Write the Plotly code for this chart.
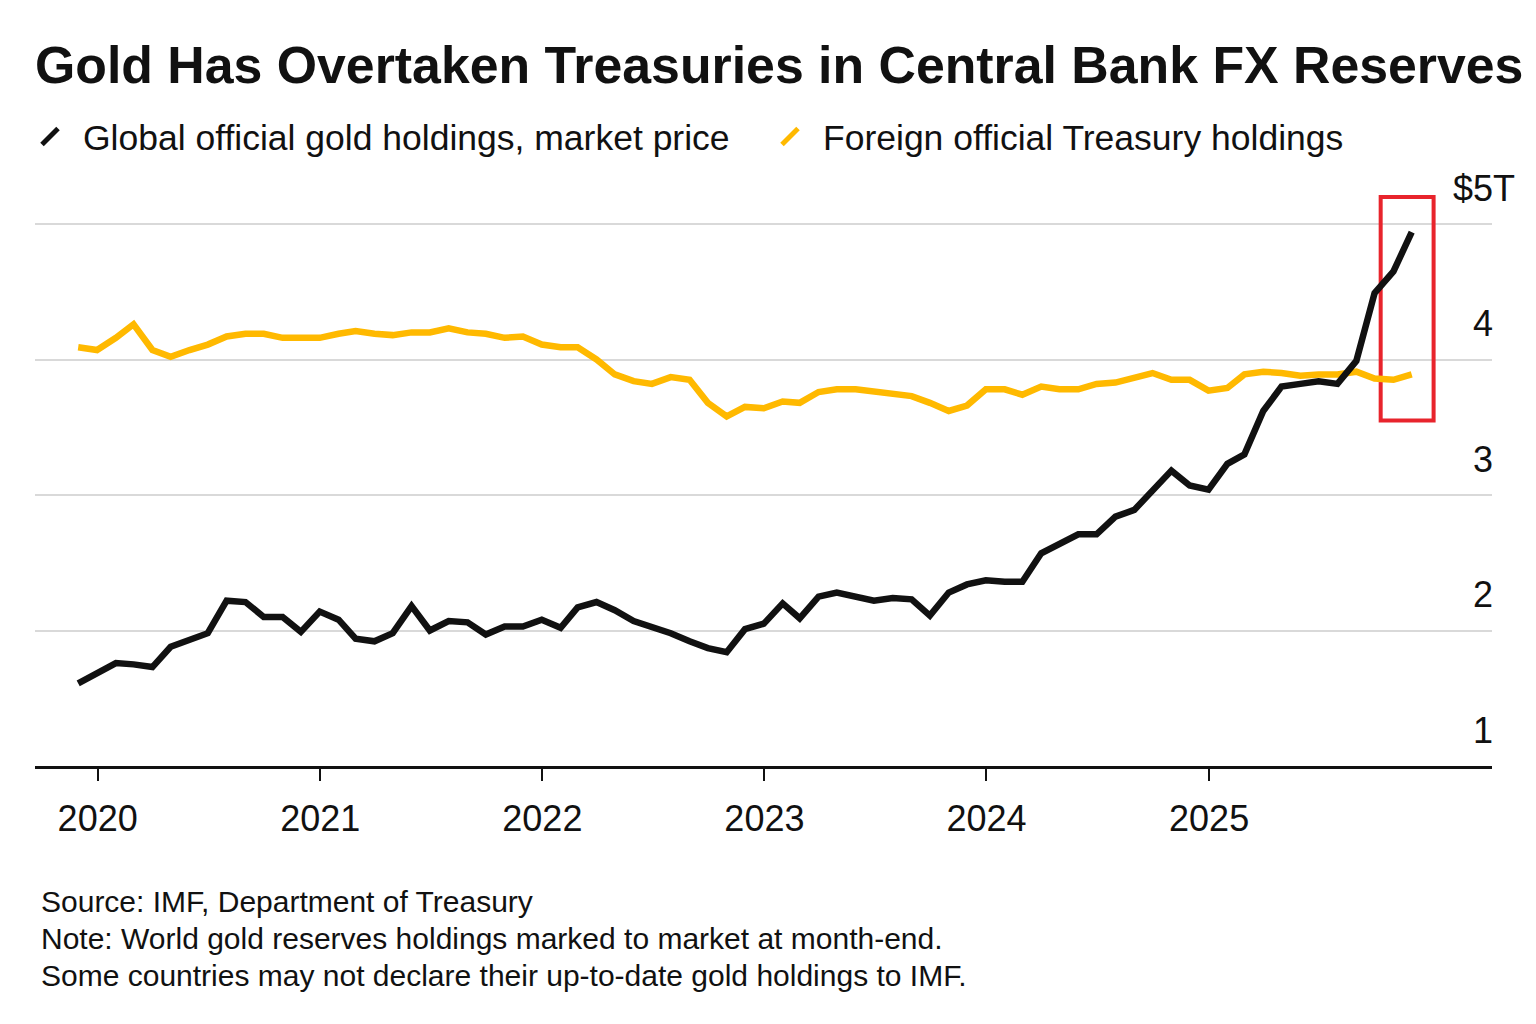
import calendar
import plotly.graph_objects as go

# ---------------- data ----------------
TITLE = "Gold Has Overtaken Treasuries in Central Bank FX Reserves"
SERIES_NAMES = ["Global official gold holdings, market price", "Foreign official Treasury holdings"]
FOOTER_LINES = [
    "Source: IMF, Department of Treasury",
    "Note: World gold reserves holdings marked to market at month-end.",
    "Some countries may not declare their up-to-date gold holdings to IMF.",
]

# month-end observations, Nov 2019 .. Nov 2025
MONTHS = [(2019, 11), (2019, 12)] + [(y, m) for y in range(2020, 2026) for m in range(1, 13)][:71]
DATES = [f"{y}-{m:02d}-{calendar.monthrange(y, m)[1]:02d}" for y, m in MONTHS]

# $ trillions
GOLD = [1.61, 1.68, 1.76, 1.75, 1.73, 1.88, 1.93, 1.98, 2.22, 2.21,
        2.10, 2.10, 1.99, 2.14, 2.08, 1.94, 1.92, 1.98, 2.18, 2.00,
        2.07, 2.06, 1.97, 2.03, 2.03, 2.08, 2.02, 2.17, 2.21, 2.15,
        2.07, 2.03, 1.98, 1.92, 1.87, 1.84, 2.01, 2.05, 2.20, 2.09,
        2.25, 2.28, 2.25, 2.22, 2.24, 2.23, 2.11, 2.28, 2.34, 2.37,
        2.36, 2.36, 2.57, 2.64, 2.71, 2.71, 2.84, 2.89, 3.03, 3.18,
        3.07, 3.04, 3.23, 3.30, 3.62, 3.80, 3.82, 3.84, 3.82, 3.99,
        4.49, 4.65, 4.94]

TREASURY = [4.09, 4.07, 4.16, 4.26, 4.07, 4.02, 4.07, 4.11, 4.17, 4.19,
            4.19, 4.16, 4.16, 4.16, 4.19, 4.21, 4.19, 4.18, 4.20, 4.20,
            4.23, 4.20, 4.19, 4.16, 4.17, 4.11, 4.09, 4.09, 4.00, 3.89,
            3.84, 3.82, 3.87, 3.85, 3.68, 3.58, 3.65, 3.64, 3.69, 3.68,
            3.76, 3.78, 3.78, 3.76, 3.75, 3.73, 3.68, 3.62, 3.66, 3.78,
            3.78, 3.74, 3.80, 3.78, 3.78, 3.82, 3.83, 3.86, 3.90, 3.85,
            3.85, 3.77, 3.79, 3.89, 3.91, 3.90, 3.88, 3.89, 3.89, 3.91,
            3.86, 3.85, 3.89]

X_TICKS = ["2020-01-01", "2021-01-01", "2022-01-01", "2023-01-01", "2024-01-01", "2025-01-01"]
X_TICK_TEXT = ["2020", "2021", "2022", "2023", "2024", "2025"]
Y_TICKS = [1, 2, 3, 4, 5]
Y_TICK_TEXT = ["\u20071", "\u20072", "\u20073", "\u20074", "$5T"]

# highlight box (latest months)
HIGHLIGHT_X = ["2025-10-10", "2026-01-05"]
HIGHLIGHT_Y = [3.55, 5.20]

# ---------------- style ----------------
FONT = "Liberation Sans, Arial, Helvetica, sans-serif"
BLACK = "#111111"
GOLD_C = "#FFB900"
RED = "#E8242C"
W, H = 1536, 1024
ML, MR, MT, MB = 35, 44, 177, 258
LEGEND_WIDTHS = [669, 520]

fig = go.Figure()

fig.add_trace(go.Scatter(x=DATES, y=TREASURY, mode="lines", showlegend=False,
                         line=dict(color=GOLD_C, width=6.5), hoverinfo="skip"))
fig.add_trace(go.Scatter(x=DATES, y=GOLD, mode="lines", showlegend=False,
                         line=dict(color=BLACK, width=6.5), hoverinfo="skip"))

# legend-only entries with diagonal glyphs
for name, col, lw in zip(SERIES_NAMES, [BLACK, GOLD_C], LEGEND_WIDTHS):
    fig.add_trace(go.Scatter(x=[None], y=[None], mode="markers", name=name,
                             legendwidth=lw,
                             marker=dict(symbol="line-ne", size=16, color=col,
                                         line=dict(color=col, width=5))))

fig.add_shape(type="rect", xref="x", yref="y",
              x0=HIGHLIGHT_X[0], x1=HIGHLIGHT_X[1], y0=HIGHLIGHT_Y[0], y1=HIGHLIGHT_Y[1],
              line=dict(color=RED, width=4), fillcolor="rgba(0,0,0,0)", layer="between")

plot_h = H - MT - MB
ppu = 135.5
y_top = 1 + plot_h / ppu

footer_y = [901, 938, 975]
for txt, yp in zip(FOOTER_LINES, footer_y):
    fig.add_annotation(text=txt, xref="paper", yref="paper",
                       x=(40 - ML) / (W - ML - MR), y=(H - MB - yp) / plot_h,
                       xanchor="left", yanchor="middle", showarrow=False,
                       font=dict(family=FONT, size=30, color=BLACK), borderpad=0)

fig.update_layout(
    width=W, height=H,
    template="none",
    paper_bgcolor="white", plot_bgcolor="white",
    margin=dict(l=ML, r=MR, t=MT, b=MB, pad=0, autoexpand=False),
    title=dict(text=TITLE, x=35 / W, xanchor="left", xref="container",
               y=1 - 65 / H, yanchor="middle", yref="container",
               font=dict(family=FONT, size=51.8, color=BLACK, weight="bold"),
               pad=dict(l=0, r=0, t=0, b=0)),
    legend=dict(orientation="h", x=17 / W, xanchor="left", xref="container",
                y=1 - 137 / H, yanchor="middle", yref="container",
                font=dict(family=FONT, size=35.5, color=BLACK),
                itemwidth=56,
                bgcolor="rgba(0,0,0,0)", borderwidth=0,
                itemclick=False, itemdoubleclick=False),
    xaxis=dict(type="date", range=["2019-09-20", "2026-04-11"],
               tickvals=X_TICKS, ticktext=X_TICK_TEXT,
               ticks="outside", ticklen=12, tickwidth=2, tickcolor=BLACK,
               showline=True, linecolor=BLACK, linewidth=3,
               showgrid=False, zeroline=False,
               tickfont=dict(family=FONT, size=36, color=BLACK),
               ticklabelstandoff=7, fixedrange=True),
    yaxis=dict(side="right", range=[1, y_top],
               tickvals=Y_TICKS, ticktext=Y_TICK_TEXT,
               ticks="", showline=False, zeroline=False,
               showgrid=True, gridcolor="#D9D9D9", gridwidth=2,
               tickfont=dict(family=FONT, size=36, color=BLACK),
               ticklabelposition="outside", ticklabelstandoff=-40,
               ticklabelshift=-36, ticklabeloverflow="allow", fixedrange=True),
    showlegend=True,
    hovermode=False,
)

fig.write_html("out.html", config={"displayModeBar": False})
